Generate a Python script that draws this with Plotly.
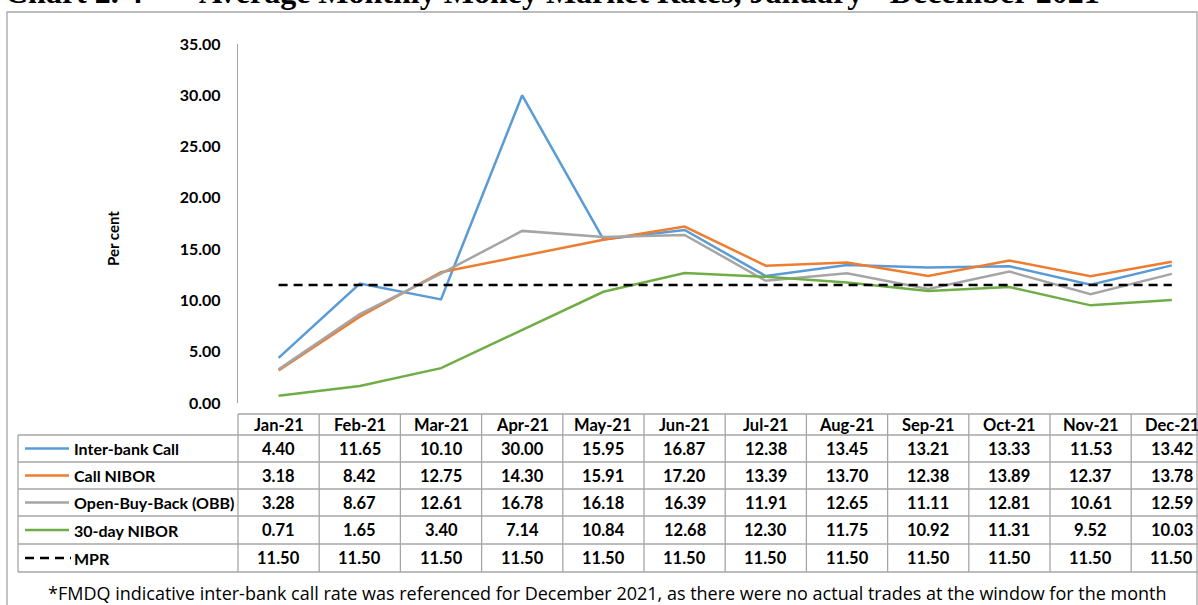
import plotly.graph_objects as go

months = ["Jan-21", "Feb-21", "Mar-21", "Apr-21", "May-21", "Jun-21",
          "Jul-21", "Aug-21", "Sep-21", "Oct-21", "Nov-21", "Dec-21"]
interbank_call = [4.40, 11.65, 10.10, 30.00, 15.95, 16.87, 12.38, 13.45, 13.21, 13.33, 11.53, 13.42]
call_nibor = [3.18, 8.42, 12.75, 14.30, 15.91, 17.20, 13.39, 13.70, 12.38, 13.89, 12.37, 13.78]
obb = [3.28, 8.67, 12.61, 16.78, 16.18, 16.39, 11.91, 12.65, 11.11, 12.81, 10.61, 12.59]
nibor_30 = [0.71, 1.65, 3.40, 7.14, 10.84, 12.68, 12.30, 11.75, 10.92, 11.31, 9.52, 10.03]
mpr = [11.50] * 12
ytick_vals = [0, 5, 10, 15, 20, 25, 30, 35]

series = [
    ("Inter-bank Call", interbank_call, "#5B9BD5", "solid"),
    ("Call NIBOR", call_nibor, "#ED7D31", "solid"),
    ("Open-Buy-Back (OBB)", obb, "#A5A5A5", "solid"),
    ("30-day NIBOR", nibor_30, "#70AD47", "solid"),
    ("MPR", mpr, "#000000", "9px,6px"),
]

W, H = 1198, 605
L, R, T, B = 238, 1198, 44, 403


def xp(px):
    return (px - L) / (R - L)


def yp(py):
    return (B - py) / (B - T)


FONT = "Lato"
fig = go.Figure()
for name, vals, color, dash in series:
    fig.add_trace(go.Scatter(x=months, y=vals, name=name, mode="lines",
                             line=dict(color=color, width=2.5, dash=dash)))

grid = "#A6A6A6"
shapes = []
annotations = []

# outer border
shapes.append(dict(type="rect", xref="paper", yref="paper", x0=xp(7), x1=xp(1197),
                   y0=yp(612), y1=yp(12), line=dict(color=grid, width=1.3)))

# table
row_edges = [414, 435, 462, 489, 516, 544, 572]
tab_left = 18
col_w = 81.2
for i, ye in enumerate(row_edges):
    x0 = L if i == 0 else tab_left
    shapes.append(dict(type="line", xref="paper", yref="paper", x0=xp(x0), x1=xp(1198),
                       y0=yp(ye), y1=yp(ye), line=dict(color=grid, width=1.3)))
for k in range(13):
    xv = L + k * col_w
    if xv > 1198:
        break
    shapes.append(dict(type="line", xref="paper", yref="paper", x0=xp(xv), x1=xp(xv),
                       y0=yp(row_edges[0]), y1=yp(row_edges[-1]), line=dict(color=grid, width=1.3)))
shapes.append(dict(type="line", xref="paper", yref="paper", x0=xp(tab_left), x1=xp(tab_left),
                   y0=yp(row_edges[1]), y1=yp(row_edges[-1]), line=dict(color=grid, width=1.3)))

tfont = dict(family=FONT, size=16.5, color="#000000")
lfont = dict(family=FONT, size=16, color="#000000")
hc = (row_edges[0] + row_edges[1]) / 2
for m in months:
    annotations.append(dict(x=m, xref="x", y=yp(hc), yref="paper", text="<b>%s</b>" % m,
                            showarrow=False, font=tfont, xanchor="center", yanchor="middle"))
for r, (name, vals, color, dash) in enumerate(series):
    cy = (row_edges[r + 1] + row_edges[r + 2]) / 2
    if dash == "solid":
        shapes.append(dict(type="line", xref="paper", yref="paper", x0=xp(25), x1=xp(69),
                           y0=yp(cy), y1=yp(cy), line=dict(color=color, width=2.5)))
    else:
        shapes.append(dict(type="line", xref="paper", yref="paper", x0=xp(25), x1=xp(71),
                           y0=yp(cy), y1=yp(cy), line=dict(color=color, width=2.5, dash="9px,6px")))
    annotations.append(dict(x=xp(72), xref="paper", y=yp(cy), yref="paper", text="<b>%s</b>" % name,
                            showarrow=False, font=lfont, xanchor="left", yanchor="middle"))
    for m, v in zip(months, vals):
        annotations.append(dict(x=m, xref="x", y=yp(cy), yref="paper", text="<b>%.2f</b>" % v,
                                showarrow=False, font=tfont, xanchor="center", yanchor="middle"))

# y axis title
annotations.append(dict(x=xp(113), xref="paper", y=yp(238), yref="paper", text="<b>Per cent</b>",
                        textangle=-90, showarrow=False, font=dict(family=FONT, size=15, color="#000"),
                        xanchor="center", yanchor="middle"))
# title (partially cut off at top)
title_font = dict(family="Liberation Serif", size=32, color="#000")
annotations.append(dict(x=xp(3), xref="paper", y=yp(-8), yref="paper", text="<b>Chart 2. 4</b>",
                        showarrow=False, font=title_font, xanchor="left", yanchor="middle"))
annotations.append(dict(x=xp(197), xref="paper", y=yp(-8), yref="paper",
                        text="<b>Average Monthly Money Market Rates, January - December 2021</b>",
                        showarrow=False, font=title_font, xanchor="left", yanchor="middle"))
# footnote
annotations.append(dict(x=xp(46), xref="paper", y=yp(593), yref="paper",
                        text="*FMDQ indicative inter-bank call rate was referenced for December 2021, as there were no actual trades at the window for the month",
                        showarrow=False, font=dict(family="Open Sans", size=18, color="#000"),
                        xanchor="left", yanchor="middle"))

fig.update_layout(
    width=W, height=H,
    margin=dict(l=L, r=W - R, t=T, b=H - B, pad=0),
    paper_bgcolor="white", plot_bgcolor="white",
    showlegend=False,
    shapes=shapes, annotations=annotations,
    xaxis=dict(type="category", range=[-0.5, -0.5 + (R - L) / col_w], showticklabels=False,
               showgrid=False, zeroline=False, showline=False, ticks=""),
    yaxis=dict(range=[0, 35], tickvals=ytick_vals, tickformat=".2f", showgrid=False, zeroline=False,
               showline=True, linecolor=grid, linewidth=1.3, ticks="", ticklabelstandoff=13,
               tickfont=dict(family=FONT, size=16, color="#000", weight="bold")),
)
fig.write_html("out.html", config={"displayModeBar": False},
               post_script="document.body.style.margin='0';document.body.style.overflow='hidden';")
